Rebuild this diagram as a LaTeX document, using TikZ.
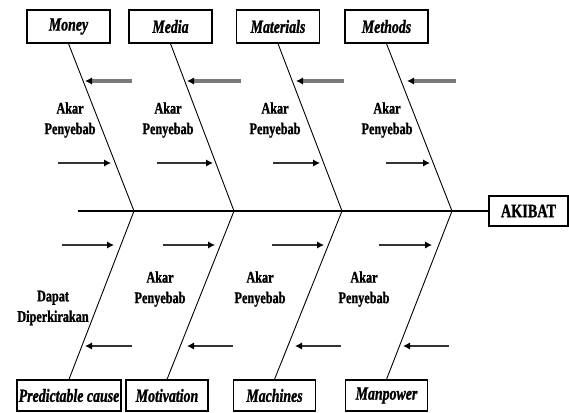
\documentclass[tikz,border=0pt]{standalone}
\usepackage{fontspec}
\setmainfont{Liberation Serif}[FakeStretch=0.75, BoldFeatures={FakeBold=1.2}, BoldItalicFeatures={FakeBold=1.2}]
\usetikzlibrary{arrows.meta}
\definecolor{shaftlight}{HTML}{7A7A7A}
\definecolor{shaftdark}{HTML}{333333}
\tikzset{
  x=1pt, y=-1pt,
  catbox/.style={draw, line width=1.3pt, minimum width=83pt, minimum height=33pt, inner sep=0pt,
    font=\fontsize{18.5}{20}\selectfont\bfseries\itshape},
  bonebox/.style={draw, line width=1.3pt, minimum width=82pt, minimum height=31pt, inner sep=0pt,
    font=\fontsize{18.5}{20}\selectfont\bfseries\itshape},
  effectbox/.style={draw, line width=1.3pt, minimum width=79pt, minimum height=30pt, inner sep=0pt,
    font=\fontsize{19}{20}\selectfont\bfseries},
  bone/.style={line width=0.9pt},
  spine/.style={line width=1.4pt},
  causelbl/.style={align=center, inner sep=0pt, font=\fontsize{16.3}{20.5}\selectfont\bfseries},
  arrlight/.style={draw=shaftlight, line width=3.4pt, -{Latex[length=7pt,width=7.5pt,black]}},
  arrdark/.style={draw=shaftdark, line width=2.8pt, -{Latex[length=7pt,width=7.5pt,black]}},
}
\begin{document}
\begin{tikzpicture}
\useasboundingbox (0,0) rectangle (569,412);
% top category boxes
\node[catbox] (money) at (68.5,26.5) {Money};
\node[catbox] (media) at (170.5,26.5) {Media};
\node[catbox] (materials) at (278,26.5) {Materials};
\node[catbox] (methods) at (386.5,26.5) {Methods};
% bottom category boxes
\node[bonebox, minimum width=104pt] (pred) at (69,395.5) {Predictable cause};
\node[bonebox] (motiv) at (167,395.5) {Motivation};
\node[bonebox] (mach) at (274.5,395.5) {Machines};
\node[bonebox] (manp) at (386.5,395.5) {Manpower};
% effect
\node[effectbox] (akibat) at (528.5,211) {AKIBAT};
% spine
\coordinate (tail) at (78,211);
\coordinate (j1) at (134,211);
\coordinate (j2) at (234,211);
\coordinate (j3) at (342,211);
\coordinate (j4) at (452,211);
\draw[spine] (tail) -- (akibat.west);
% bones
\draw[bone] (money.south) -- (j1) -- (pred.north);
\draw[bone] (media.south) -- (j2) -- (motiv.north);
\draw[bone] (materials.south) -- (j3) -- (mach.north);
\draw[bone] (methods.south) -- (j4) -- (manp.north);
% labels
\node[causelbl] (l1) at (70,120) {Akar\\Penyebab};
\node[causelbl] (l2) at (168,120) {Akar\\Penyebab};
\node[causelbl] (l3) at (275,120) {Akar\\Penyebab};
\node[causelbl] (l4) at (387,120) {Akar\\Penyebab};
\node[causelbl] (l5) at (53,308) {Dapat\\Diperkirakan};
\node[causelbl] (l6) at (160,289) {Akar\\Penyebab};
\node[causelbl] (l7) at (260,289) {Akar\\Penyebab};
\node[causelbl] (l8) at (364,289) {Akar\\Penyebab};
% top-left arrows
\coordinate (a1s) at (132,81); \coordinate (a1e) at (85,81);
\coordinate (a2s) at (241,81); \coordinate (a2e) at (187,81);
\coordinate (a3s) at (344,81); \coordinate (a3e) at (296,81);
\coordinate (a4s) at (456,81); \coordinate (a4e) at (407,81);
\draw[arrlight] (a1s) -- (a1e);
\draw[arrlight] (a2s) -- (a2e);
\draw[arrlight] (a3s) -- (a3e);
\draw[arrlight] (a4s) -- (a4e);
% top-right arrows
\coordinate (b1s) at (58,163); \coordinate (b1e) at (111,163);
\coordinate (b2s) at (157,163); \coordinate (b2e) at (213,163);
\coordinate (b3s) at (273,163); \coordinate (b3e) at (320,163);
\coordinate (b4s) at (386,163); \coordinate (b4e) at (430,163);
\draw[arrdark] (b1s) -- (b1e);
\draw[arrdark] (b2s) -- (b2e);
\draw[arrdark] (b3s) -- (b3e);
\draw[arrdark] (b4s) -- (b4e);
% bottom-right arrows
\coordinate (c1s) at (62,245); \coordinate (c1e) at (114,245);
\coordinate (c2s) at (163,245); \coordinate (c2e) at (215,245);
\coordinate (c3s) at (272,245); \coordinate (c3e) at (324,245);
\coordinate (c4s) at (379,245); \coordinate (c4e) at (432,245);
\draw[arrdark] (c1s) -- (c1e);
\draw[arrdark] (c2s) -- (c2e);
\draw[arrdark] (c3s) -- (c3e);
\draw[arrdark] (c4s) -- (c4e);
% bottom-left arrows
\coordinate (d1s) at (132,346); \coordinate (d1e) at (85,346);
\coordinate (d2s) at (233,346); \coordinate (d2e) at (187,346);
\coordinate (d3s) at (341,346); \coordinate (d3e) at (295,346);
\coordinate (d4s) at (449,346); \coordinate (d4e) at (403,346);
\draw[arrdark] (d1s) -- (d1e);
\draw[arrdark] (d2s) -- (d2e);
\draw[arrdark] (d3s) -- (d3e);
\draw[arrdark] (d4s) -- (d4e);
\end{tikzpicture}
\end{document}
